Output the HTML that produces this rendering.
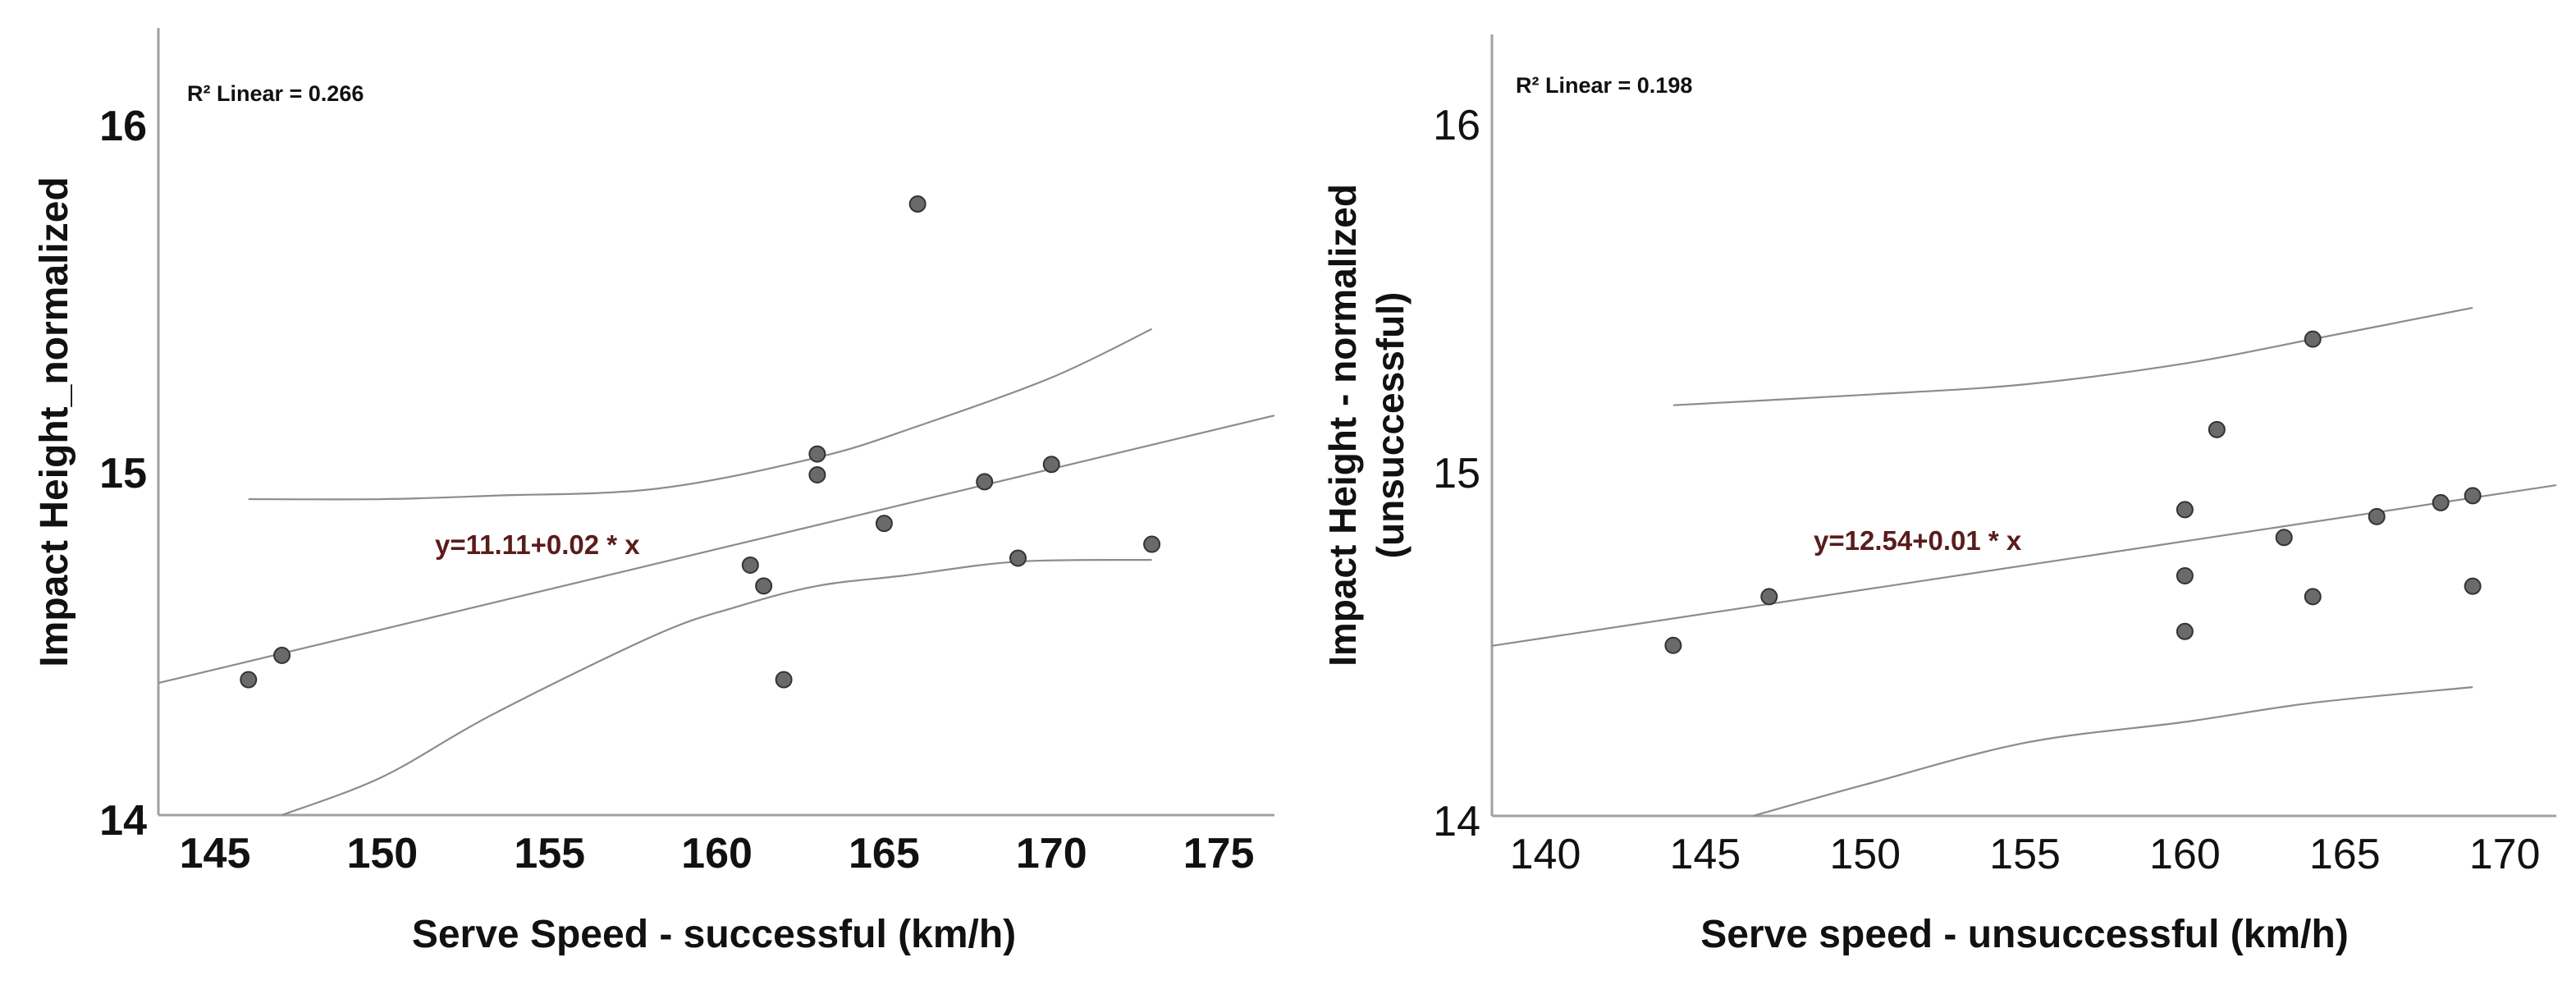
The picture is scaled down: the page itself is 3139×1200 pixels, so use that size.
<!DOCTYPE html>
<html><head><meta charset="utf-8"><style>
html,body{margin:0;padding:0;background:#fff;}
svg{display:block;}
text{font-family:"Liberation Sans",Arial,sans-serif;}
</style></head>
<body>
<svg id="chart" width="3139" height="1200" viewBox="0 0 3139 1200" xmlns="http://www.w3.org/2000/svg"></svg>
<script>
// ---- Left chart data ----
const leftX = [146, 147, 161, 161.4, 162, 163, 163, 165, 166, 168, 169, 170, 173];
const leftY = [14.39, 14.46, 14.72, 14.66, 14.39, 15.04, 14.98, 14.84, 15.76, 14.96, 14.74, 15.01, 14.78];
const leftXTicks = [145, 150, 155, 160, 165, 170, 175];
const leftYTicks = [14, 15, 16];
const leftFit = [11.07, 0.0231];
const leftUpperX = [146, 150, 153.3, 158.2, 163, 166, 170, 173];
const leftUpperY = [14.91, 14.91, 14.92, 14.94, 15.03, 15.12, 15.26, 15.40];
const leftLowerX = [147, 150, 153.3, 158.2, 160.6, 163, 165.6, 169, 173];
const leftLowerY = [14.00, 14.11, 14.29, 14.52, 14.60, 14.66, 14.69, 14.73, 14.735];
// ---- Right chart data ----
const rightX = [144, 147, 160, 160, 160, 161, 163.1, 164, 164, 166, 168, 169, 169];
const rightY = [14.49, 14.63, 14.88, 14.69, 14.53, 15.11, 14.80, 15.37, 14.63, 14.86, 14.90, 14.92, 14.66];
const rightXTicks = [140, 145, 150, 155, 160, 165, 170];
const rightYTicks = [14, 15, 16];
const rightFit = [12.57, 0.01387];
const rightUpperX = [144, 150, 155, 160, 164, 169];
const rightUpperY = [15.18, 15.21, 15.24, 15.30, 15.37, 15.46];
const rightLowerX = [146.5, 150, 155, 160, 164, 169];
const rightLowerY = [14.00, 14.09, 14.21, 14.27, 14.325, 14.37];

const NS = "http://www.w3.org/2000/svg";
const svg = document.getElementById("chart");
function mk(tag, attrs, parent){
  const e = document.createElementNS(NS, tag);
  for (const k in attrs) e.setAttribute(k, attrs[k]);
  (parent||svg).appendChild(e);
  return e;
}
function smoothPath(pts){
  let d = "M" + pts[0][0] + "," + pts[0][1];
  for (let i=0;i<pts.length-1;i++){
    const p0 = pts[Math.max(0,i-1)], p1 = pts[i], p2 = pts[i+1], p3 = pts[Math.min(pts.length-1,i+2)];
    const c1x = p1[0] + (p2[0]-p0[0])/6, c1y = p1[1] + (p2[1]-p0[1])/6;
    const c2x = p2[0] - (p3[0]-p1[0])/6, c2y = p2[1] - (p3[1]-p1[1])/6;
    d += " C" + c1x + "," + c1y + " " + c2x + "," + c2y + " " + p2[0] + "," + p2[1];
  }
  return d;
}
function drawChart(cfg){
  const g = mk("g", {});
  
  
  const sx = v => cfg.x0px + (v - cfg.x0v) * cfg.xs;
  const sy = v => cfg.y14 - (v - 14) * cfg.ys;
  const xMinV = cfg.x0v + (cfg.axisL - cfg.x0px) / cfg.xs;
  const xMaxV = cfg.x0v + (cfg.axisR - cfg.x0px) / cfg.xs;
  // axes
  const ya = mk("line", {x1:cfg.axisL, y1:cfg.axisT, x2:cfg.axisL, y2:cfg.y14, stroke:"#a0a0a0","stroke-width":3}, g);
  
  
  const xa = mk("line", {x1:cfg.axisL, y1:cfg.y14, x2:cfg.axisR, y2:cfg.y14, stroke:"#a0a0a0","stroke-width":3}, g);
  
  
  // ticks
  cfg.xTicks.forEach(t => {
    const tx = mk("text", {x:sx(t), y:cfg.y14+64, "text-anchor":"middle", "font-size":52, "font-weight":cfg.tickWeight, fill:"#111"}, g);
    tx.textContent = t;
    
    
  });
  cfg.yTicks.forEach(t => {
    const ty = mk("text", {x:cfg.axisL-14, y:sy(t)+24, "text-anchor":"end", "font-size":52, "font-weight":cfg.tickWeight, fill:"#111"}, g);
    ty.textContent = t;
    
    
  });
  // CI curves
  const up = cfg.upX.map((v,i)=>[sx(v), sy(cfg.upY[i])]);
  const upP = mk("path", {d:smoothPath(up), fill:"none", stroke:"#8c8c8c", "stroke-width":2.2}, g);
  
  
  const lo = cfg.loX.map((v,i)=>[sx(v), sy(cfg.loY[i])]);
  const loP = mk("path", {d:smoothPath(lo), fill:"none", stroke:"#8c8c8c", "stroke-width":2.2}, g);
  
  
  // fit line
  const fl = mk("line", {x1:sx(xMinV), y1:sy(cfg.fit[0]+cfg.fit[1]*xMinV), x2:sx(xMaxV), y2:sy(cfg.fit[0]+cfg.fit[1]*xMaxV), stroke:"#8c8c8c","stroke-width":2.2}, g);
  
  
  // points
  cfg.px.forEach((v,i) => {
    const c = mk("circle", {cx:sx(v), cy:sy(cfg.py[i]), r:9.5, fill:"#6a6a6a", stroke:"#333", "stroke-width":2}, g);
    
    
  });
  // labels
  const r2 = mk("text", {x:cfg.r2x, y:cfg.r2y+10, "font-size":27, "font-weight":"bold", fill:"#111"}, g);
  r2.textContent = cfg.r2;
  
  
  const eq = mk("text", {x:cfg.eqx, y:cfg.eqy+12, "font-size":33, "font-weight":"bold", fill:"#5a1c1c"}, g);
  eq.textContent = cfg.eq;
  
  
  const xt = mk("text", {x:cfg.xtx, y:1154, "text-anchor":"middle", "font-size":48, "font-weight":"bold", fill:"#111"}, g);
  xt.textContent = cfg.xTitle;
  
  
  cfg.yTitle.forEach((s, i) => {
    const yt = mk("text", {x:0, y:0, "text-anchor":"middle", "font-size":cfg.yTitleSize, "font-weight":"bold", fill:"#111",
      transform:"translate(" + (cfg.ytx[i]) + "," + cfg.yty + ") rotate(-90)"}, g);
    yt.textContent = s;
    
    
  });
}
drawChart({name:"left-chart", x0px:262, x0v:145, xs:40.77, y14:993, ys:423, axisL:193, axisR:1553, axisT:34,
  xTicks:leftXTicks, yTicks:leftYTicks, tickWeight:"bold", upX:leftUpperX, upY:leftUpperY, loX:leftLowerX, loY:leftLowerY,
  fit:leftFit, px:leftX, py:leftY, r2:"R² Linear = 0.266", r2x:228, r2y:113, eq:"y=11.11+0.02 * x", eqx:530, eqy:663,
  xTitle:"Serve Speed - successful (km/h)", xtx:870, yTitle:["Impact Height_normalized"], ytx:[82], yty:514, yTitleSize:48});
drawChart({name:"right-chart", x0px:1883, x0v:140, xs:38.97, y14:994, ys:424, axisL:1818, axisR:3115, axisT:42,
  xTicks:rightXTicks, yTicks:rightYTicks, tickWeight:"normal", upX:rightUpperX, upY:rightUpperY, loX:rightLowerX, loY:rightLowerY,
  fit:rightFit, px:rightX, py:rightY, r2:"R² Linear = 0.198", r2x:1847, r2y:103, eq:"y=12.54+0.01 * x", eqx:2210, eqy:658,
  xTitle:"Serve speed - unsuccessful (km/h)", xtx:2467, yTitle:["Impact Height - normalized", "(unsuccessful)"], ytx:[1652, 1710], yty:518, yTitleSize:46});
</script>
</body></html>
